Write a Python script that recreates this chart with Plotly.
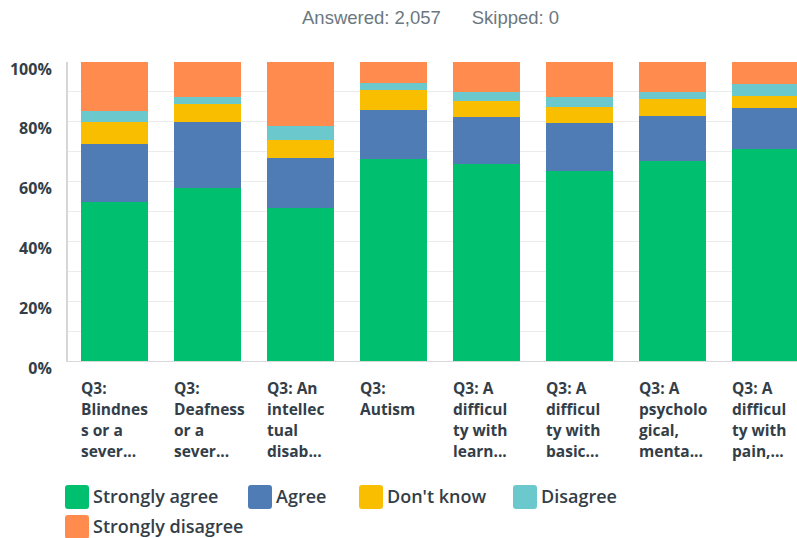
import plotly.graph_objects as go

# Survey responses (percent of respondents) per statement
tick_labels = [
    "Q3:<br>Blindnes<br>s or a<br>sever...",
    "Q3:<br>Deafness<br>or a<br>sever...",
    "Q3: An<br>intellec<br>tual<br>disab...",
    "Q3:<br>Autism",
    "Q3: A<br>difficul<br>ty with<br>learn...",
    "Q3: A<br>difficul<br>ty with<br>basic...",
    "Q3: A<br>psycholo<br>gical,<br>menta...",
    "Q3: A<br>difficul<br>ty with<br>pain,...",
]
series_names = ["Strongly agree", "Agree", "Don't know", "Disagree", "Strongly disagree"]
strongly_agree = [53.2, 57.9, 51.2, 67.7, 65.9, 63.6, 67.0, 71.0]
agree = [19.4, 22.0, 16.7, 16.2, 15.7, 16.0, 14.9, 13.6]
dont_know = [7.3, 6.1, 6.0, 6.7, 5.5, 5.5, 5.8, 4.0]
disagree = [3.8, 2.4, 4.7, 2.5, 2.9, 3.3, 2.3, 4.0]
strongly_disagree = [16.3, 11.6, 21.4, 6.9, 10.0, 11.6, 10.0, 7.4]
y_ticks = [0, 20, 40, 60, 80, 100]

series_values = [strongly_agree, agree, dont_know, disagree, strongly_disagree]
colors = ["#00BF6F", "#507CB6", "#F9BE00", "#6BC8CD", "#FF8B4F"]

W, H = 797, 538
ML, MR, MT, MB = 68, 0, 62, 177
PW, PH = W - ML - MR, H - MT - MB

def px_x(px):
    return (px - ML) / PW

def px_y(py):
    return (H - MB - py) / PH

x = list(range(len(tick_labels)))
fig = go.Figure()
for name, vals, col in zip(series_names, series_values, colors):
    fig.add_trace(go.Bar(x=x, y=vals, name=name, marker=dict(color=col, line=dict(width=0)),
                         showlegend=False))

BAR_W = 0.73
step_px = 93.0
x_range = [-0.5, -0.5 + PW / step_px]

FONT = "Open Sans"
INK = "#333E48"

# Category labels, left aligned under each bar, one annotation per line
annotations = []
LINE_H = 21
for i, lab in enumerate(tick_labels):
    for j, line in enumerate(lab.split("<br>")):
        annotations.append(dict(x=i - BAR_W / 2, y=px_y(388 + LINE_H * j), xref="x", yref="paper",
                                text=line, showarrow=False, xanchor="left", yanchor="middle",
                                xshift=-2,
                                font=dict(family=FONT, size=15.5, color=INK, weight="bold")))

# Header
annotations.append(dict(x=px_x(430), y=px_y(17), xref="paper", yref="paper",
                        xanchor="center", yanchor="middle", showarrow=False,
                        text="Answered: 2,057\u00a0\u00a0\u00a0\u00a0\u00a0\u00a0Skipped: 0",
                        font=dict(family="Liberation Sans", size=18.5, color="#6B787F")))

# Legend drawn as rounded swatches with labels
legend_pos = [(65, 497), (248, 497), (359, 497), (513, 497), (65, 527)]
shapes = []
sw, sh, r = 24, 24, 3
for (lx, ly), name, col in zip(legend_pos, series_names, colors):
    x0, x1 = px_x(lx), px_x(lx + sw)
    y0, y1 = px_y(ly + sh / 2), px_y(ly - sh / 2)
    rx, ry = r / PW, r / PH
    path = (f"M{x0+rx},{y0} L{x1-rx},{y0} Q{x1},{y0} {x1},{y0+ry} L{x1},{y1-ry} "
            f"Q{x1},{y1} {x1-rx},{y1} L{x0+rx},{y1} Q{x0},{y1} {x0},{y1-ry} "
            f"L{x0},{y0+ry} Q{x0},{y0} {x0+rx},{y0} Z")
    shapes.append(dict(type="path", path=path, xref="paper", yref="paper",
                       fillcolor=col, line=dict(width=0)))
    annotations.append(dict(x=px_x(lx + sw + 2), y=px_y(ly - 1), xref="paper", yref="paper",
                            text=name, showarrow=False, xanchor="left", yanchor="middle",
                            font=dict(family=FONT, size=18, color=INK, weight=600)))

fig.update_layout(
    width=W, height=H,
    margin=dict(l=ML, r=MR, t=MT, b=MB),
    barmode="stack",
    bargap=1 - BAR_W,
    plot_bgcolor="white", paper_bgcolor="white",
    showlegend=False,
    annotations=annotations,
    shapes=shapes,
    xaxis=dict(range=x_range, showticklabels=False, showgrid=False, zeroline=False,
               showline=True, linecolor="#D9D9D9", linewidth=1, ticks=""),
    yaxis=dict(range=[0, 100], tickvals=y_ticks, ticktext=[f"{v}%" for v in y_ticks],
               showgrid=True, gridcolor="#EBEBEB", gridwidth=1, zeroline=False,
               showline=True, linecolor="#D6D6D6", linewidth=2, ticks="",
               ticklabelstandoff=11, ticklabelshift=7,
               tickfont=dict(family=FONT, size=16, color=INK, weight="bold"),
               minor=dict(dtick=10, showgrid=True, gridcolor="#EBEBEB", gridwidth=1)),
)

fig.write_html("out.html")
